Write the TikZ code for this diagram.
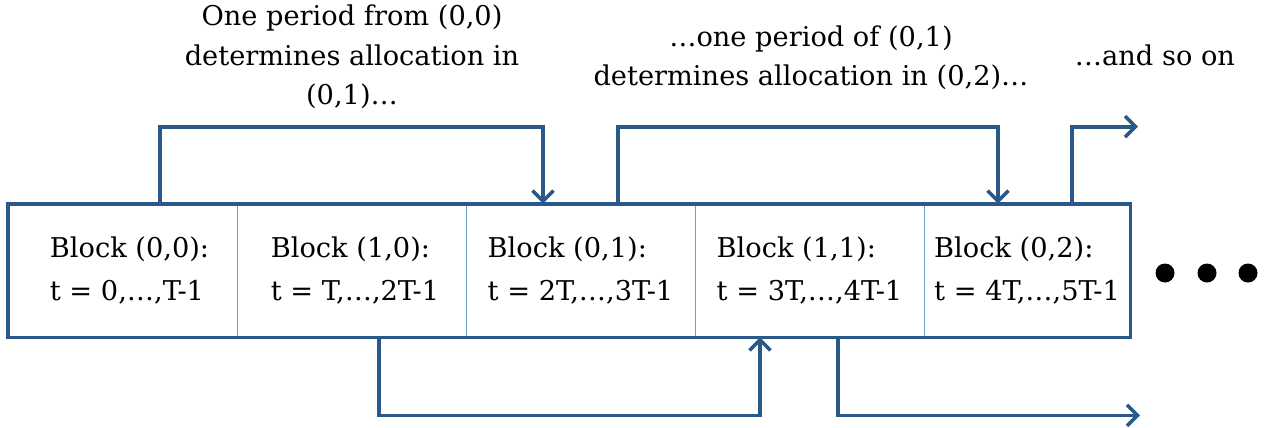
\documentclass[tikz,border=0pt]{standalone}
\usepackage{fontspec}
\setmainfont{DejaVu Serif}
\usetikzlibrary{arrows.meta, positioning, calc}
\definecolor{lineBlue}{HTML}{2A5889}
\definecolor{divBlue}{HTML}{6E9BD2}
\tikzset{
  flowarrow/.style={-{Straight Barb[length=6pt, width=12pt, line width=2pt]}, lineBlue, line width=2.1pt},
  flowline/.style={lineBlue, line width=2.1pt},
  divline/.style={divBlue, line width=0.9pt},
  blockbox/.style={rectangle, minimum width=4.58cm, minimum height=2.66cm, inner sep=0pt,
                   align=left, font={\fontsize{15.5}{24.5}\selectfont}},
  labeltext/.style={align=center, font={\fontsize{15.5}{22.5}\selectfont}},
  dotmark/.style={circle, fill=black, minimum size=0.38cm, inner sep=0pt},
}
\begin{document}
\begin{tikzpicture}[x=0.02cm, y=-0.02cm]
  \useasboundingbox (0,0) rectangle (1271,427);
  % the five blocks
  \node[blockbox] (b0) at (122.5,270.5) {\hspace*{8pt}Block (0,0):\\\hspace*{8pt}t = 0,…,T-1};
  \node[blockbox] (b1) at (351.5,270.5) {\hspace*{4pt}Block (1,0):\\\hspace*{4pt}t = T,…,2T-1};
  \node[blockbox] (b2) at (580.5,270.5) {Block (0,1):\\t = 2T,…,3T-1};
  \node[blockbox] (b3) at (809.5,270.5) {Block (1,1):\\t = 3T,…,4T-1};
  \node[blockbox, minimum width=4.12cm] (b4) at (1027,270.5) {Block (0,2):\\t = 4T,…,5T-1};
  \foreach \a/\b in {b0/b1, b1/b2, b2/b3, b3/b4}
    \draw[divline] (\a.north east) -- (\a.south east);
  \draw[flowline] (b0.north west) rectangle (b4.south east);
  % arrows above
  \draw[flowarrow] ([xshift=0.75cm]b0.north) -- ++(0,-77) -| ([xshift=-0.75cm]b2.north);
  \draw[flowarrow] ([xshift=0.75cm]b2.north) -- ++(0,-77) -| ([xshift=-0.58cm]b4.north);
  \draw[flowarrow] ([xshift=0.9cm]b4.north) -- ++(0,-77) -- ++(66,0);
  % arrows below
  \draw[flowarrow] ([xshift=0.55cm]b1.south) -- ++(0,78) -| ([xshift=-0.99cm]b3.south);
  \draw[flowarrow] ([xshift=0.57cm]b3.south) -- ++(0,78) -- ++(302,0);
  % dots
  \foreach \x [count=\i] in {1165,1207,1248}
    \node[dotmark] (dot\i) at (\x,273) {};
  % labels
  \node[labeltext] (lab1) at (352,57) {One period from (0,0)\\determines allocation in\\(0,1)…};
  \node[labeltext] (lab2) at (811,58) {…one period of (0,1)\\determines allocation in (0,2)…};
  \node[labeltext] (lab3) at (1155,55) {…and so on};
\end{tikzpicture}
\end{document}
